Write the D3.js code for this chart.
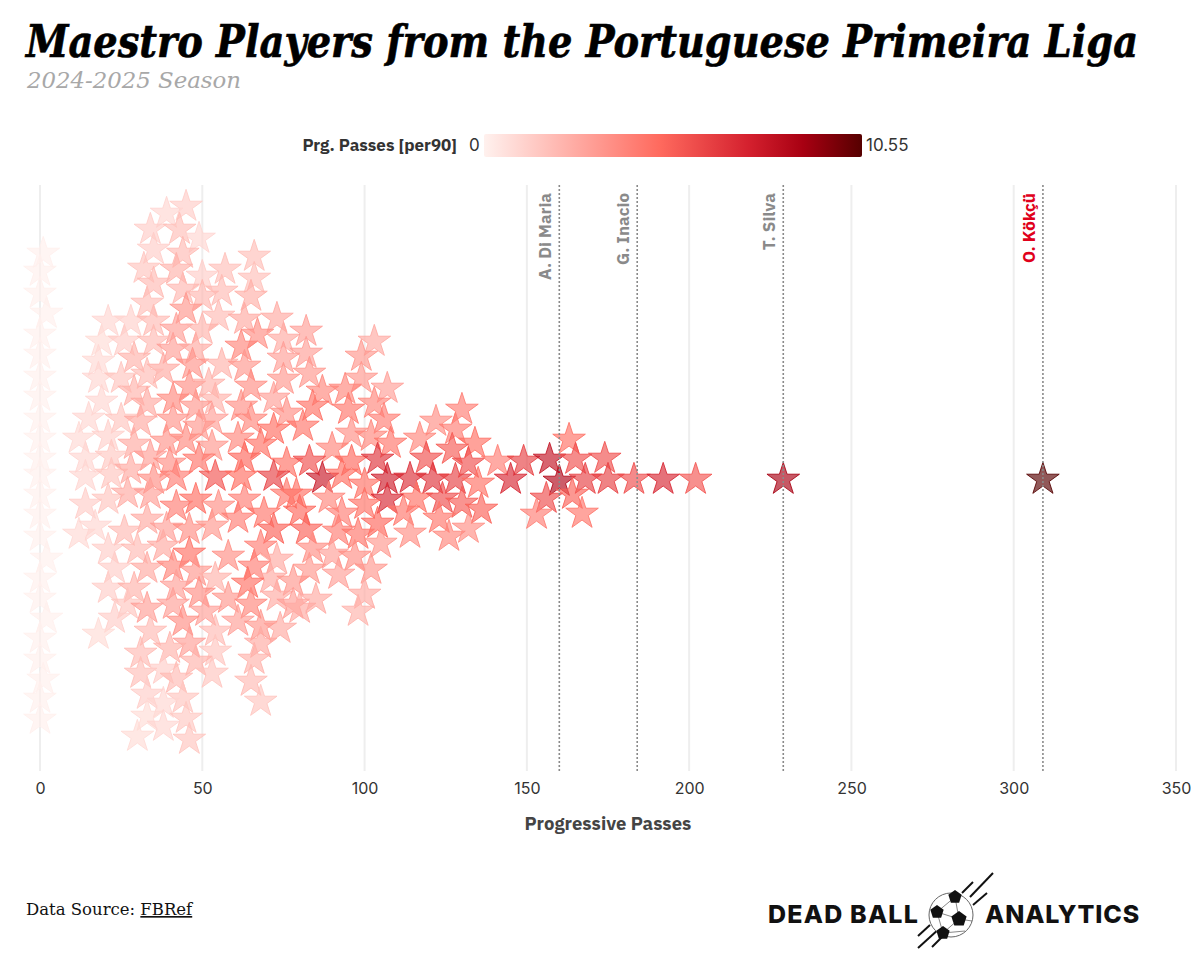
<!DOCTYPE html>
<html lang="en">

<head>
    <meta charset="UTF-8">
    <title>Maestro Players from the Portuguese Primeira Liga</title>
    <script src="https://d3js.org/d3.v7.min.js"></script>
    <style>
        body { margin: 0; background: #fff; }
        svg { display: block; }
    </style>
</head>

<body>
    <script>
        // Values, same index in all three arrays
        const passes = [
            1, 0, 0, 2, 0, 0, 0, 0, 0, 0, 0, 0, 0, 0, 0, 2, 0, 0, 2, 0, 0, 1, 0, 0,
            45, 39, 34, 43, 49, 35, 44, 32, 42, 50, 57, 66, 66, 35, 44, 56, 50, 65, 33, 45, 28, 21, 35, 55, 73, 63,
            42, 50, 67, 19, 26, 35, 75, 41, 48, 62, 18, 29, 75, 47, 56, 63, 38, 33, 18, 25, 75, 46, 52, 65, 29,
            19, 41, 33, 72, 54, 48, 62, 76, 15, 25, 31, 41, 53, 65, 72, 49, 12, 21, 29, 45, 39, 61, 53, 68,
            14, 22, 34, 49, 63, 40, 76, 72, 54, 14, 22, 28, 62, 42, 35,
            14, 21, 27, 34, 48, 55, 63, 76, 42, 12, 17, 33, 26, 39, 46, 61, 53, 69, 72,
            21, 30, 38, 46, 58, 68, 73, 23, 33, 41, 48, 66, 54, 21, 29, 42, 71, 64, 49, 58, 78,
            27, 33, 41, 51, 65, 73, 78, 23, 61, 44, 74, 68, 18, 34, 54, 46, 40, 68, 31, 54, 48, 66,
            31, 38, 42, 53, 65, 33, 44, 68, 38, 33, 45, 38, 30, 46,
            103, 99, 107, 99, 82, 82, 83, 87, 94, 103, 95, 84, 106, 81, 96, 102, 108,
            130, 122, 128, 134, 117, 127, 90, 83, 96, 104, 119, 132, 141, 149, 157, 163, 165, 174,
            87, 93, 107, 114, 121, 128, 135, 145, 160, 168, 175, 100, 89, 79, 116, 124, 107, 130, 156, 164,
            100, 136, 112, 93, 80, 123, 153, 167, 104, 82, 114, 126, 132, 92, 98, 105, 84, 90, 97, 102, 83, 92,
            85, 100, 80, 98,
            183, 192, 202, 229, 309
        ];

        const swarmOffset = [
            226, 208, 186, 166, 145, 125, 103, 83, 61, 41, 21, 5, -15, -35, -57, -79, -99, -119, -139, -159, -180, -200, -219, -240,
            273, 266, 250, 250, 241, 230, 226, 211, 210, 203, 210, 223, 201, 196, 190, 188, 183, 183, 176, 170, 158, 158, 158, 163, 161, 160,
            150, 150, 145, 138, 138, 138, 140, 130, 130, 133, 118, 121, 121, 115, 115, 113, 110, 105, 101, 101, 100, 93, 95, 93, 88,
            78, 80, 76, 81, 80, 73, 73, 66, 61, 60, 58, 60, 60, 60, 50, 53, 41, 43, 35, 40, 38, 41, 33, 35,
            21, 23, 23, 20, 21, 16, 16, 3, 3, 3, 5, 10, 3, 3, 0,
            -25, -20, -14, -15, -20, -27, -20, -15, -27, -55, -47, -40, -52, -49, -50, -39, -47, -34, -50,
            -70, -70, -67, -74, -77, -67, -80, -89, -89, -87, -92, -87, -99, -109, -109, -107, -99, -104, -114, -119, -102,
            -125, -129, -125, -132, -125, -117, -125, -139, -142, -142, -149, -147, -155, -152, -152, -164, -169, -164, -174, -172, -182, -180,
            -194, -190, -199, -194, -202, -215, -219, -222, -224, -237, -239, -247, -257, -260,
            138, 123, 91, 101, 148, 126, 106, 88, 90, 76, 70, 73, 60, 53, 46, 43, 36,
            70, 58, 50, 36, 41, 30, 31, 18, 18, 20, 21, 16, 18, 18, 20, 40, 20, 21,
            1, 5, 0, 1, 0, 0, -4, 0, -2, 0, 0, -5, -19, -15, -19, -19, -20, -24, -19, -15,
            -25, -30, -32, -34, -32, -39, -35, -34, -44, -50, -54, -57, -49, -52, -55, -64, -69, -75, -77, -90, -90, -95,
            -120, -115, -129, -132,
            0, 0, 0, 0, 0
        ];

        const per90 = [
            0.05, 0.05, 0.05, 0.05, 0.05, 0.05, 0.05, 0.05, 0.05, 0.05, 0.05, 0.05, 0.05, 0.05, 0.05, 0.05, 0.05, 0.05, 0.05, 0.05, 0.05, 0.05, 0.05, 0.05,
            1.3, 1.0, 1.3, 1.8, 1.0, 1.3, 2.0, 1.6, 2.3, 1.3, 1.8, 1.8, 1.8, 2.0, 2.1, 2.0, 2.1, 2.4, 1.8, 3.3, 1.2, 1.0, 2.0, 2.0, 2.6, 2.6,
            3.0, 2.3, 3.6, 0.8, 1.3, 2.0, 2.6, 3.0, 2.6, 3.9, 0.9, 2.3, 3.0, 3.4, 2.3, 3.3, 2.6, 2.0, 1.0, 1.6, 3.3, 3.6, 2.3, 3.6, 2.3,
            1.0, 3.8, 2.6, 3.0, 2.3, 3.3, 3.6, 3.6, 1.0, 1.6, 2.6, 3.4, 3.0, 3.9, 4.8, 3.3, 0.9, 1.2, 2.6, 3.8, 3.4, 3.9, 3.3, 4.7,
            1.0, 1.5, 3.0, 4.5, 5.0, 3.6, 4.7, 6.3, 5.6, 1.0, 1.6, 2.6, 4.8, 4.2, 3.6,
            1.3, 1.6, 2.6, 3.0, 4.8, 3.6, 4.2, 4.5, 4.2, 0.9, 1.0, 2.6, 2.0, 3.0, 3.6, 4.2, 3.3, 4.5, 5.2,
            1.3, 2.0, 2.6, 4.7, 3.6, 4.2, 2.6, 1.3, 2.6, 3.9, 3.3, 4.2, 2.3, 1.3, 2.3, 3.0, 2.6, 4.7, 3.6, 3.3, 3.3,
            1.6, 3.0, 3.0, 3.0, 3.9, 2.6, 3.0, 1.3, 3.0, 3.6, 2.6, 3.3, 0.8, 2.0, 2.0, 3.0, 2.3, 2.6, 2.0, 1.6, 2.3, 2.3,
            1.8, 1.3, 2.0, 1.6, 2.0, 1.3, 1.6, 1.6, 1.0, 0.8, 1.5, 1.0, 0.8, 1.6,
            2.6, 3.3, 3.0, 3.3, 3.0, 3.0, 3.3, 3.9, 3.9, 3.9, 4.5, 4.7, 4.2, 4.5, 3.6, 3.9, 4.5,
            4.2, 3.6, 4.2, 4.7, 3.9, 5.4, 3.9, 5.8, 5.0, 6.8, 5.8, 5.8, 4.2, 6.3, 8.0, 4.7, 5.8, 5.8,
            7.8, 4.8, 7.6, 7.0, 6.8, 6.3, 4.7, 7.2, 8.6, 6.3, 6.3, 4.7, 3.9, 4.7, 4.7, 5.9, 7.2, 5.4, 5.9, 5.2,
            4.7, 5.2, 4.5, 4.2, 5.0, 4.5, 4.2, 4.5, 5.0, 5.2, 3.6, 3.9, 3.6, 4.2, 4.5, 3.3, 3.6, 3.0, 3.6, 3.3, 3.3, 3.0,
            2.6, 2.6, 2.6, 2.3,
            5.9, 7.2, 5.6, 8.9, 10.55
        ];

        // Players called out with a dotted line
        const calloutNames = ["A. Di Maria", "G. Inacio", "T. Silva", "O. Kökçü"];
        const calloutPasses = [160, 184, 229, 309];
        const calloutColors = ["#8a8a8a", "#8a8a8a", "#8a8a8a", "#e0001b"];

        const xTicks = [0, 50, 100, 150, 200, 250, 300, 350];

        const colorStops = [0, 4.9, 7.4, 8.9, 10.55];
        const colorRange = ["#fff1ee", "#ff6a5e", "#d4202e", "#a80012", "#560000"];

        let width = 1200;
        let height = 957;

        let svg = d3.select("body")
            .append("svg")
            .attr("width", width)
            .attr("height", height);

        let x = d3.scaleLinear().domain([0, 350]).range([40, 1176]);
        let y = d3.scaleLinear().domain([-293, 293]).range([771, 185]);
        let color = d3.scaleLinear().domain(colorStops).range(colorRange);

        const sans = "'IBM Plex Sans', Roboto, 'Noto Sans', sans-serif";

        // Title block
        svg.append("text")
            .attr("x", 26)
            .attr("y", 57)
            .attr("textLength", 1112)
            .attr("lengthAdjust", "spacingAndGlyphs")
            .style("font-family", "'DejaVu Serif', serif")
            .style("font-stretch", "condensed")
            .style("font-weight", 700)
            .style("font-style", "italic")
            .style("font-size", "44px")
            .style("stroke", "#000")
            .style("stroke-width", 0.6)
            .text("Maestro Players from the Portuguese Primeira Liga");

        svg.append("text")
            .attr("x", 27)
            .attr("y", 88)
            .attr("textLength", 214)
            .attr("lengthAdjust", "spacingAndGlyphs")
            .style("font-family", "'DejaVu Serif', serif")
            .style("font-stretch", "condensed")
            .style("font-style", "italic")
            .style("font-size", "23px")
            .style("fill", "#a8a8a8")
            .text("2024-2025 Season");

        // Colour legend
        let defs = svg.append("defs");
        let gradient = defs.append("linearGradient").attr("id", "legendGradient");
        colorStops.forEach((stop, i) => {
            gradient.append("stop")
                .attr("offset", stop / 10.55)
                .attr("stop-color", colorRange[i]);
        });

        svg.append("rect")
            .attr("x", 484)
            .attr("y", 134)
            .attr("width", 378)
            .attr("height", 23)
            .attr("rx", 2)
            .style("fill", "url(#legendGradient)");

        svg.append("text")
            .attr("x", 457)
            .attr("y", 151)
            .attr("text-anchor", "end")
            .style("font-family", sans)
            .style("font-weight", 700)
            .style("font-size", "17px")
            .style("fill", "#333")
            .text("Prg. Passes [per90]");

        svg.append("text")
            .attr("x", 469)
            .attr("y", 151)
            .style("font-family", "Inter, sans-serif")
            .style("font-size", "17px")
            .style("fill", "#333")
            .text("0");

        svg.append("text")
            .attr("x", 866)
            .attr("y", 151)
            .style("font-family", "Inter, sans-serif")
            .style("font-size", "17px")
            .style("fill", "#333")
            .text("10.55");

        // Grid
        svg.append("g")
            .selectAll("line")
            .data(xTicks)
            .enter()
            .append("line")
            .attr("x1", d => x(d))
            .attr("x2", d => x(d))
            .attr("y1", y.range()[1])
            .attr("y2", y.range()[0])
            .style("stroke", "#eeeeee")
            .style("stroke-width", 2);

        // Axis
        let xAxis = svg.append("g")
            .attr("transform", "translate(0,780)")
            .call(d3.axisBottom(x).tickValues(xTicks).tickSize(0).tickPadding(3));
        xAxis.select(".domain").remove();
        xAxis.selectAll("text")
            .style("font-family", "Inter, sans-serif")
            .style("font-size", "16px")
            .style("fill", "#333");

        svg.append("text")
            .attr("x", 608)
            .attr("y", 830)
            .attr("text-anchor", "middle")
            .style("font-family", sans)
            .style("font-weight", 700)
            .style("font-size", "18.5px")
            .style("fill", "#444")
            .text("Progressive Passes");

        // Stars
        let star = d3.symbol().type(d3.symbolStar).size(330);
        svg.append("g")
            .selectAll("path")
            .data(passes.map((p, i) => i))
            .enter()
            .append("path")
            .attr("d", star)
            .attr("transform", i => `translate(${x(passes[i])},${y(swarmOffset[i]) + 1.5})`)
            .style("fill", i => color(per90[i]))
            .style("fill-opacity", 0.65)
            .style("stroke", i => color(per90[i]))
            .style("stroke-opacity", 0.85)
            .style("stroke-width", 1);

        // Callouts
        svg.append("g")
            .selectAll("line")
            .data(calloutPasses)
            .enter()
            .append("line")
            .attr("x1", d => x(d))
            .attr("x2", d => x(d))
            .attr("y1", y.range()[1])
            .attr("y2", y.range()[0])
            .style("stroke", "#8a8a8a")
            .style("stroke-width", 1.6)
            .style("stroke-dasharray", "2,2");

        svg.append("g")
            .selectAll("text")
            .data(calloutNames)
            .enter()
            .append("text")
            .attr("transform", (d, i) => `translate(${x(calloutPasses[i]) - 8},193) rotate(-90)`)
            .attr("text-anchor", "end")
            .style("font-family", sans)
            .style("font-weight", 700)
            .style("font-size", "17px")
            .style("fill", (d, i) => calloutColors[i])
            .text(d => d);

        // Footer
        let source = svg.append("text")
            .attr("x", 26)
            .attr("y", 915)
            .style("font-family", "'DejaVu Serif', serif")
            .style("font-size", "16.5px")
            .style("fill", "#111");
        source.append("tspan").text("Data Source: ");
        source.append("tspan").style("text-decoration", "underline").text("FBRef");

        // Logo
        let logo = svg.append("g");
        logo.append("text")
            .attr("x", 768)
            .attr("y", 923)
            .style("font-family", "Inter, sans-serif")
            .style("font-weight", 800)
            .style("font-size", "25px")
            .style("letter-spacing", "1.2px")
            .style("fill", "#111")
            .text("DEAD BALL");
        logo.append("text")
            .attr("x", 985)
            .attr("y", 923)
            .style("font-family", "Inter, sans-serif")
            .style("font-weight", 800)
            .style("font-size", "25px")
            .style("letter-spacing", "0.9px")
            .style("fill", "#111")
            .text("ANALYTICS");

        const streaks = [
            [993, 873, 970, 897], [973, 882, 962, 893], [987, 893, 973, 905],
            [918, 948, 940, 928], [918, 936, 930, 925], [932, 947, 943, 936]
        ];
        logo.selectAll("line.streak")
            .data(streaks)
            .enter()
            .append("line")
            .attr("class", "streak")
            .attr("x1", d => d[0]).attr("y1", d => d[1])
            .attr("x2", d => d[2]).attr("y2", d => d[3])
            .style("stroke", "#111")
            .style("stroke-width", 2);

        logo.append("circle")
            .attr("cx", 951)
            .attr("cy", 915)
            .attr("r", 22)
            .style("fill", "#fff")
            .style("stroke", "#666")
            .style("stroke-width", 1);

        const seams = [
            [959, 919, 955, 897], [959, 919, 937, 912], [959, 919, 943, 933],
            [959, 919, 972, 921], [955, 897, 937, 912], [937, 912, 943, 933], [943, 933, 965, 931]
        ];
        logo.selectAll("line.seam")
            .data(seams)
            .enter()
            .append("line")
            .attr("class", "seam")
            .attr("x1", d => d[0]).attr("y1", d => d[1])
            .attr("x2", d => d[2]).attr("y2", d => d[3])
            .style("stroke", "#555")
            .style("stroke-width", 0.7);

        const patches = [[959, 919, 8], [955, 897, 7], [937, 912, 7], [943, 933, 7]];
        let pentagon = d3.lineRadial().curve(d3.curveLinearClosed);
        logo.selectAll("path")
            .data(patches)
            .enter()
            .append("path")
            .attr("transform", d => `translate(${d[0]},${d[1]})`)
            .attr("d", d => pentagon(d3.range(5).map(k => [k * 2 * Math.PI / 5, d[2]])))
            .style("fill", "#111");
    </script>
</body>

</html>
